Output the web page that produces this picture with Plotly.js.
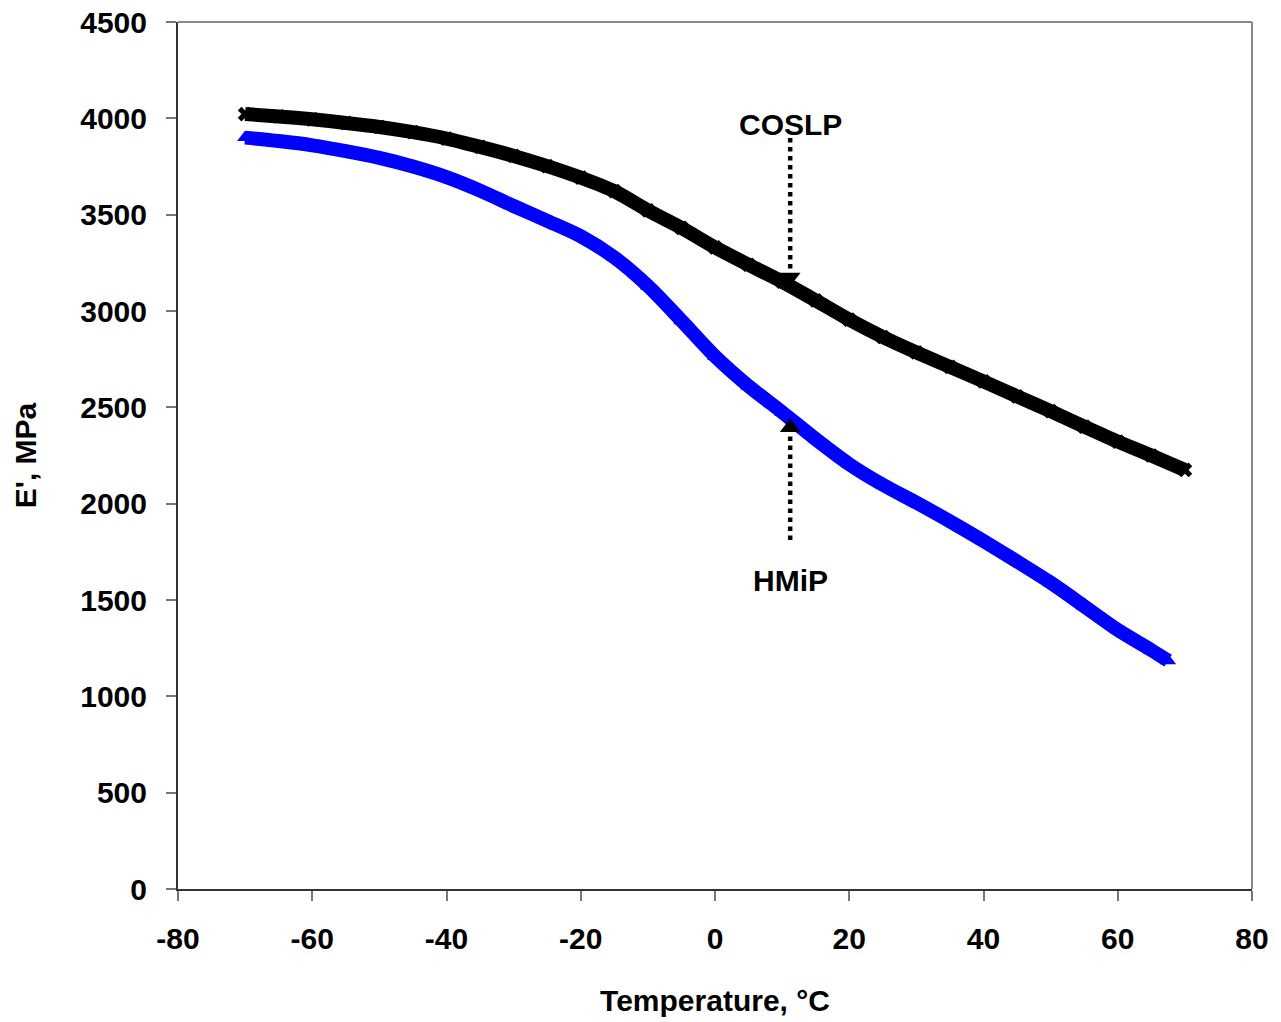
<!DOCTYPE html>
<html>
<head>
<meta charset="utf-8">
<script src="https://cdn.plot.ly/plotly-3.0.1.min.js"></script>
<style>html,body{margin:0;padding:0;background:#fff;}#chart{width:1281px;height:1022px;}</style>
</head>
<body>
<div id="chart"></div>
<script>
// Temperature (°C) and storage modulus E' (MPa)
const tempCOSLP = [-70,-65,-60,-55,-50,-45,-40,-35,-30,-25,-20,-15,-10,-5,0,5,10,15,20,25,30,35,40,45,50,55,60,65,70];
const eCOSLP    = [4022,4010,3995,3976,3955,3928,3895,3852,3805,3752,3692,3622,3522,3431,3330,3240,3152,3055,2955,2865,2785,2710,2635,2557,2480,2400,2322,2250,2175];
const tempHMiP  = [-70,-65,-60,-55,-50,-45,-40,-35,-30,-25,-20,-15,-10,-5,0,5,10,15,20,25,30,35,40,45,50,55,60,65,67.5];
const eHMiP     = [3900,3882,3860,3830,3795,3750,3695,3625,3545,3468,3388,3278,3130,2950,2765,2610,2475,2335,2205,2098,2005,1908,1806,1700,1590,1468,1345,1240,1185];

// Annotation arrows: label, x, label y, arrow start y, arrow tip y
const labels     = ["COSLP", "HMiP"];
const labelX     = [11.2, 11.2];
const labelY     = [3970, 1600];
const arrowFromY = [3898, 1811];
const arrowTipY  = [3175, 2395];

const xTicks = [-80,-60,-40,-20,0,20,40,60,80];
const yTicks = [0,500,1000,1500,2000,2500,3000,3500,4000,4500];

const FONT = 'Liberation Sans, Arial, sans-serif';
const FS = 30;

const traces = [
  {x: tempCOSLP, y: eCOSLP, mode: 'lines+markers', name: 'COSLP',
   line: {color: '#000', width: 14, shape: 'spline', smoothing: 0.8},
   marker: {symbol: 'x', size: 13, color: '#000'}},
  {x: tempHMiP, y: eHMiP, mode: 'lines+markers', name: 'HMiP',
   line: {color: '#0000ff', width: 14, shape: 'spline', smoothing: 0.8},
   marker: {symbol: 'triangle-up', size: 14, color: '#0000ff'}},
  {x: [labelX[0]], y: [arrowTipY[0]], mode: 'markers', hoverinfo: 'skip',
   marker: {symbol: 'triangle-down', size: 18, color: '#000'}},
  {x: [labelX[1]], y: [arrowTipY[1]], mode: 'markers', hoverinfo: 'skip',
   marker: {symbol: 'triangle-up', size: 18, color: '#000'}}
];

const shapes = [
  {type: 'line', xref: 'x', yref: 'y', x0: labelX[0], x1: labelX[0], y0: arrowFromY[0], y1: arrowTipY[0] + 40,
   line: {color: '#000', width: 4.5, dash: 'dot'}},
  {type: 'line', xref: 'x', yref: 'y', x0: labelX[1], x1: labelX[1], y0: arrowFromY[1], y1: arrowTipY[1] - 40,
   line: {color: '#000', width: 4.5, dash: 'dot'}},
  // top and right frame
  {type: 'line', xref: 'paper', yref: 'paper', x0: 0, x1: 1, y0: 1, y1: 1, line: {color: '#888', width: 2}},
  {type: 'line', xref: 'paper', yref: 'paper', x0: 1, x1: 1, y0: 0, y1: 1, line: {color: '#888', width: 2}}
];

const annotations = labels.map((t, i) => ({
  x: labelX[i], y: labelY[i], xref: 'x', yref: 'y', text: t, showarrow: false,
  font: {family: FONT, size: FS, color: '#000', weight: 'bold'}
}));

const layout = {
  width: 1281, height: 1022,
  margin: {l: 178, r: 29, t: 22, b: 133},
  paper_bgcolor: '#fff', plot_bgcolor: '#fff',
  showlegend: false,
  font: {family: FONT, color: '#000'},
  xaxis: {
    range: [-80, 80], tickvals: xTicks, ticktext: xTicks.map(String),
    showgrid: false, zeroline: false, showline: true, linecolor: '#333', linewidth: 2,
    ticks: 'outside', ticklen: 10, tickwidth: 2, tickcolor: '#777', ticklabelstandoff: 12,
    tickfont: {family: FONT, size: FS, color: '#000', weight: 'bold'},
    title: {text: 'Temperature, °C', standoff: 36, font: {family: FONT, size: FS, color: '#000', weight: 'bold'}}
  },
  yaxis: {
    range: [0, 4500], tickvals: yTicks, ticktext: yTicks.map(String),
    showgrid: false, zeroline: false, showline: true, linecolor: '#333', linewidth: 2,
    ticks: 'outside', ticklen: 10, tickwidth: 2, tickcolor: '#777', ticklabelstandoff: 13,
    tickfont: {family: FONT, size: FS, color: '#000', weight: 'bold'},
    title: {text: "E', MPa", standoff: 35, font: {family: FONT, size: FS, color: '#000', weight: 'bold'}}
  },
  shapes: shapes,
  annotations: annotations
};

Plotly.newPlot('chart', traces, layout, {displayModeBar: false, staticPlot: true});
</script>
</body>
</html>
